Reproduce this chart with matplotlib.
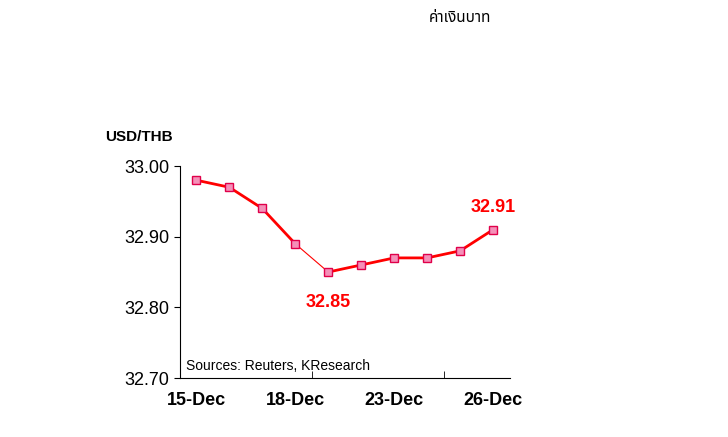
import matplotlib.pyplot as plt
import matplotlib
matplotlib.rcParams['font.family'] = ['Liberation Sans', 'Noto Sans', 'DejaVu Sans']

dates = ["15-Dec", "16-Dec", "17-Dec", "18-Dec", "19-Dec", "22-Dec", "23-Dec", "24-Dec", "25-Dec", "26-Dec"]
rates = [32.98, 32.97, 32.94, 32.89, 32.85, 32.86, 32.87, 32.87, 32.88, 32.91]
shown_ticks = [0, 3, 6, 9]

fig = plt.figure(figsize=(7.28, 4.37), dpi=100)
ax = fig.add_axes([0.247, 0.135, 0.453, 0.485])
x = list(range(len(rates)))

ax.plot(x[:4], rates[:4], color='#ff0000', lw=2)
ax.plot(x[3:5], rates[3:5], color='#ff0000', lw=0.8)
ax.plot(x[4:], rates[4:], color='#ff0000', lw=2)
ax.plot(x, rates, ls='none', marker='s', ms=6, mfc='#f490b8', mec='#e0004a', mew=1)

ax.set_xlim(-0.5, 9.5)
ax.set_ylim(32.70, 33.00)
ax.set_yticks([32.70, 32.80, 32.90, 33.00])
ax.set_yticklabels(["32.70", "32.80", "32.90", "33.00"], fontsize=13)
ax.set_xticks(shown_ticks)
ax.set_xticklabels([dates[i] for i in shown_ticks], fontsize=13, fontweight='bold')
ax.tick_params(axis='x', length=0, pad=10)
ax.set_xticks([-0.5, 3.5, 7.5], minor=True)
ax.tick_params(axis='x', which='minor', length=5, direction='in')
ax.tick_params(axis='y', direction='out', length=4)
for s in ['top', 'right']:
    ax.spines[s].set_visible(False)

ax.annotate("32.85", (4, rates[4]), xytext=(0, -16), textcoords='offset points',
            ha='center', va='top', color='#ff0000', fontsize=13, fontweight='bold')
ax.annotate("32.91", (9, rates[9]), xytext=(0, 10), textcoords='offset points',
            ha='center', va='bottom', color='#ff0000', fontsize=13, fontweight='bold')
ax.text(0.02, 0.04, "Sources: Reuters, KResearch", transform=ax.transAxes, fontsize=10)

fig.text(105 / 728, 1 - 137 / 437, "USD/THB", fontsize=11, fontweight='bold', va='center')
fig.text(460 / 728, 1 - 18 / 437, "ค่าเงินบาท", fontsize=11, fontweight='bold', ha='center', va='center',
         family=['Noto Sans Thai', 'Noto Sans', 'DejaVu Sans'])

fig.savefig("out.png")
